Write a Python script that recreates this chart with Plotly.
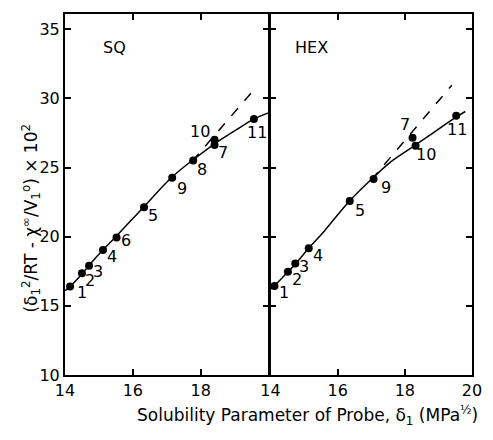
import plotly.graph_objects as go
from plotly.subplots import make_subplots

# ---- data ----
sq_ids = ["1", "2", "3", "4", "6", "5", "9", "8", "10", "7", "11"]
sq_x = [14.15, 14.50, 14.71, 15.12, 15.52, 16.33, 17.16, 17.78, 18.41, 18.41, 19.57]
sq_y = [16.40, 17.35, 17.90, 19.04, 19.95, 22.12, 24.27, 25.50, 27.00, 26.63, 28.50]

sq_curve_x = [14.0, 14.15, 14.5, 14.7, 15.1, 15.5, 16.3, 17.15, 17.8, 18.4, 19.0, 19.57, 20.0]
sq_curve_y = [16.1, 16.4, 17.3, 17.9, 19.0, 20.0, 22.1, 24.3, 25.6, 26.7, 27.65, 28.5, 28.95]
sq_dash_x = [17.75, 19.65]
sq_dash_y = [25.45, 30.85]

hex_ids = ["1", "2", "3", "4", "5", "9", "7", "10", "11"]
hex_x = [14.12, 14.52, 14.74, 15.14, 16.36, 17.07, 18.23, 18.32, 19.53]
hex_y = [16.43, 17.47, 18.07, 19.16, 22.58, 24.17, 27.16, 26.58, 28.75]

hex_curve_x = [14.0, 14.12, 14.5, 14.75, 15.15, 15.6, 16.36, 17.07, 17.6, 18.3, 18.9, 19.5, 19.8]
hex_curve_y = [16.2, 16.45, 17.4, 18.05, 19.2, 20.4, 22.6, 24.3, 25.45, 26.6, 27.6, 28.6, 29.05]
hex_dash_x = [17.0, 19.4]
hex_dash_y = [24.1, 30.95]

x_ticks_left = [14, 16, 18]
x_ticks_right = [14, 16, 18, 20]
y_ticks = [10, 15, 20, 25, 30, 35]

# label offsets in pixels (dx right, dy down)
sq_off = {"1": (12, 6), "2": (8, 7), "3": (9, 6), "4": (9, 7), "6": (9, 3), "5": (9, 8),
          "9": (10, 11), "8": (9, 9), "10": (-15, -8), "7": (8, 8), "11": (3, 13)}
hex_off = {"1": (10, 6), "2": (9, 8), "3": (9, 3), "4": (9, 7), "5": (10, 9), "9": (12, 8),
           "7": (-8, -13), "10": (10, 9), "11": (1, 14)}

FONT = "DejaVu Sans"
LW = 2
PLOT_W = 493 - 65 - 11

fig = make_subplots(rows=1, cols=2, shared_yaxes=False, horizontal_spacing=0)

for col, (cx, cy, dx, dy, px, py) in enumerate(
        [(sq_curve_x, sq_curve_y, sq_dash_x, sq_dash_y, sq_x, sq_y),
         (hex_curve_x, hex_curve_y, hex_dash_x, hex_dash_y, hex_x, hex_y)], start=1):
    fig.add_trace(go.Scatter(x=cx, y=cy, mode="lines", line=dict(color="black", width=1.5, shape="spline"),
                             showlegend=False, hoverinfo="skip"), row=1, col=col)
    fig.add_trace(go.Scatter(x=dx, y=dy, mode="lines", line=dict(color="black", width=1.5, dash="10px,10px"),
                             showlegend=False, hoverinfo="skip"), row=1, col=col)
    fig.add_trace(go.Scatter(x=px, y=py, mode="markers", marker=dict(color="black", size=8),
                             showlegend=False), row=1, col=col)

for ids, xs, ys, off, xref, yref in [(sq_ids, sq_x, sq_y, sq_off, "x", "y"),
                                      (hex_ids, hex_x, hex_y, hex_off, "x2", "y2")]:
    for lab, xv, yv in zip(ids, xs, ys):
        ox, oy = off[lab]
        fig.add_annotation(x=xv, y=yv, xref=xref, yref=yref, text=lab, showarrow=False,
                           xshift=ox, yshift=-oy, font=dict(size=16, color="black", family=FONT))

fig.add_annotation(x=15.07, y=33.7, xref="x", yref="y", text="SQ", showarrow=False, xanchor="left",
                   font=dict(size=16, color="black", family=FONT))
fig.add_annotation(x=14.66, y=33.7, xref="x2", yref="y2", text="HEX", showarrow=False, xanchor="left",
                   font=dict(size=16, color="black", family=FONT))

axis_common = dict(showline=True, linecolor="black", linewidth=LW, mirror="allticks",
                   ticks="inside", ticklen=6, tickwidth=1.5, tickcolor="black",
                   showgrid=False, zeroline=False,
                   tickfont=dict(size=16, color="black", family=FONT))

fig.update_xaxes(range=[14, 20], tickvals=x_ticks_left, domain=[0, 0.5], row=1, col=1, **axis_common)
fig.update_xaxes(range=[14, 20], tickvals=x_ticks_right, domain=[0.5 + LW / PLOT_W, 1],
                 ticklabeloverflow="allow", row=1, col=2, **axis_common)
fig.update_yaxes(range=[10, 36.1], tickvals=y_ticks, row=1, col=1, **axis_common)
fig.update_yaxes(range=[10, 36.1], tickvals=y_ticks, showticklabels=False, row=1, col=2, **axis_common)

fig.add_annotation(xref="paper", yref="paper", x=1.02, y=-0.112, xanchor="right", yanchor="middle",
                   text="Solubility Parameter of Probe, δ<sub>1</sub> (MPa<sup>½</sup>)", showarrow=False,
                   font=dict(size=17, color="black", family=FONT))
fig.add_annotation(xref="paper", yref="paper", x=-0.082, y=0.435, xanchor="center", yanchor="middle",
                   textangle=-90,
                   text="(δ<sub>1</sub><sup>2</sup>/RT - χ<sup>∞</sup>/V<sub>1</sub><sup>o</sup>) × 10<sup>2</sup>",
                   showarrow=False, font=dict(size=17, color="black", family=FONT))

fig.update_layout(width=493, height=440, margin=dict(l=65, r=11, t=14, b=65),
                  plot_bgcolor="white", paper_bgcolor="white", font=dict(family=FONT, color="black"))

fig.write_html("out.html")
